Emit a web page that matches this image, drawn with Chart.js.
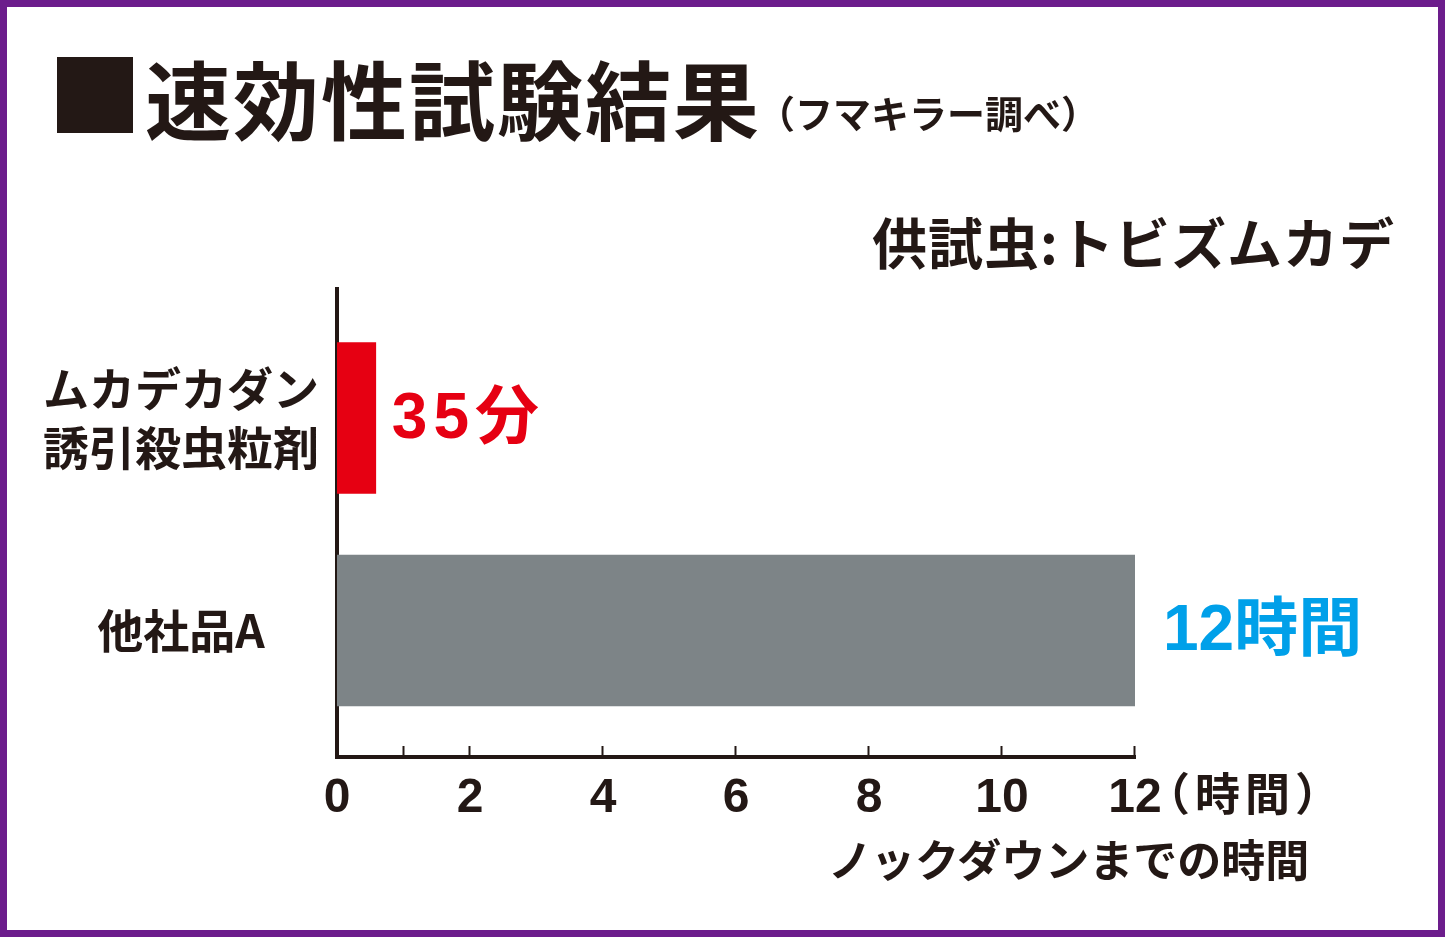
<!DOCTYPE html>
<html lang="ja">
<head>
<meta charset="utf-8">
<title>速効性試験結果</title>
<script src="https://cdn.jsdelivr.net/npm/chart.js@4"></script>
<style>
  body { margin: 0; background: #fff; }
  #wrap { position: relative; width: 1445px; height: 937px; overflow: hidden; font-family: "Noto Sans CJK JP", sans-serif; font-weight: bold; color: #231815; }
  #wrap canvas { position: absolute; left: 0; top: 0; }
  .frame { position: absolute; left: 0; top: 0; width: 1445px; height: 937px; box-sizing: border-box; border: 7px solid #6c1d8c; pointer-events: none; }
  .txt { position: absolute; white-space: nowrap; line-height: 1; }
  .square { position: absolute; left: 57px; top: 57px; width: 76px; height: 76px; background: #231815; }
</style>
</head>
<body>
<div id="wrap">
  <canvas id="knockdownChart"></canvas>
  <div class="square"></div>
  <div class="txt" style="left:145px; top:54px; font-size:86px; letter-spacing:2px;">速効性試験結果</div>
  <div class="txt" style="left:757px; top:93px; font-size:38px;">（フマキラー調べ）</div>
  <div class="txt" style="right:50px; top:213px; font-size:55px; letter-spacing:1px;">供試虫:トビズムカデ</div>
  <div class="txt" style="left:828px; top:836px; font-size:44px;">ノックダウンまでの時間</div>
  <div class="frame"></div>
</div>
<script>
// Data
const products = [['ムカデカダン', '誘引殺虫粒剤'], '他社品A'];
const knockdownMinutes = [35, 720];
const valueLabels = ['35分', '12時間'];
const xTicks = [0, 1, 2, 4, 6, 8, 10, 12];

const ink = '#231815';
const barColors = ['#e60012', '#7d8487'];
const labelColors = ['#e60012', '#00a0e9'];

// minutes -> hours for the axis
const hours = knockdownMinutes.map(m => m / 60);

// Short tick marks above the axis line, value labels, and the unit after 12
const decorPlugin = {
    id: 'decor',
    afterDraw(chart) {
        const ctx = chart.ctx;
        const xScale = chart.scales.x;
        const bottom = chart.chartArea.bottom;
        ctx.save();
        ctx.strokeStyle = ink;
        ctx.lineWidth = 2;
        xScale.ticks.forEach(t => {
            if (t.value === 0) return;
            const px = Math.round(xScale.getPixelForValue(t.value)) - 0.5;
            ctx.beginPath();
            ctx.moveTo(px, bottom - 11);
            ctx.lineTo(px, bottom);
            ctx.stroke();
        });

        // unit next to the last tick label
        ctx.fillStyle = ink;
        ctx.font = 'bold 45px "Noto Sans CJK JP"';
        ctx.textBaseline = 'middle';
        ctx.textAlign = 'left';
        ctx.letterSpacing = '5px';
        ctx.fillText('（時間）', xScale.getPixelForValue(12) + 10, 794);

        // value labels at bar ends
        const offsets = [16, 28];
        const spacing = ['6px', '0px'];
        const meta = chart.getDatasetMeta(0);
        ctx.font = 'bold 64px "Liberation Sans", "Noto Sans CJK JP"';
        meta.data.forEach((bar, i) => {
            ctx.letterSpacing = spacing[i];
            ctx.fillStyle = labelColors[i];
            ctx.fillText(valueLabels[i], bar.x + offsets[i], bar.y + 2);
        });
        ctx.restore();
    }
};

const ctx = document.getElementById('knockdownChart').getContext('2d');
window.knockdownChart = new Chart(ctx, {
    type: 'bar',
    data: {
        datasets: [{
            data: hours.map((h, i) => ({ x: h, y: i })),
            backgroundColor: barColors,
            borderWidth: 0,
            barThickness: 151
        }]
    },
    options: {
        indexAxis: 'y',
        responsive: true,
        maintainAspectRatio: false,
        animation: false,
        layout: {
            padding: { left: 0, top: 289, right: 310, bottom: 0 }
        },
        scales: {
            x: {
                type: 'linear',
                min: 0,
                max: 12,
                offset: false,
                afterBuildTicks: scale => {
                    scale.ticks = xTicks.map(v => ({ value: v }));
                },
                afterFit: scale => {
                    scale.height = 180;
                },
                grid: { display: false, offset: false },
                border: { display: true, color: ink, width: 4 },
                ticks: {
                    autoSkip: false,
                    maxRotation: 0,
                    padding: 5,
                    color: ink,
                    font: { family: '"Liberation Sans", Arial, sans-serif', size: 48, weight: 'bold' },
                    callback: value => value === 1 ? '' : String(value)
                }
            },
            y: {
                type: 'linear',
                reverse: true,
                min: -0.607,
                max: 1.595,
                offset: false,
                afterBuildTicks: scale => {
                    scale.ticks = products.map((_, i) => ({ value: i }));
                },
                afterFit: scale => {
                    scale.width = 337;
                },
                grid: { display: false, offset: false },
                border: { display: true, color: ink, width: 4 },
                ticks: {
                    autoSkip: false,
                    crossAlign: 'center',
                    padding: 10,
                    color: ink,
                    font: { family: '"Noto Sans CJK JP", sans-serif', size: 46, weight: 'bold', lineHeight: 1.3 },
                    callback: value => products[value]
                }
            }
        },
        plugins: {
            legend: { display: false },
            tooltip: { enabled: false }
        }
    },
    plugins: [decorPlugin]
});
</script>
</body>
</html>
